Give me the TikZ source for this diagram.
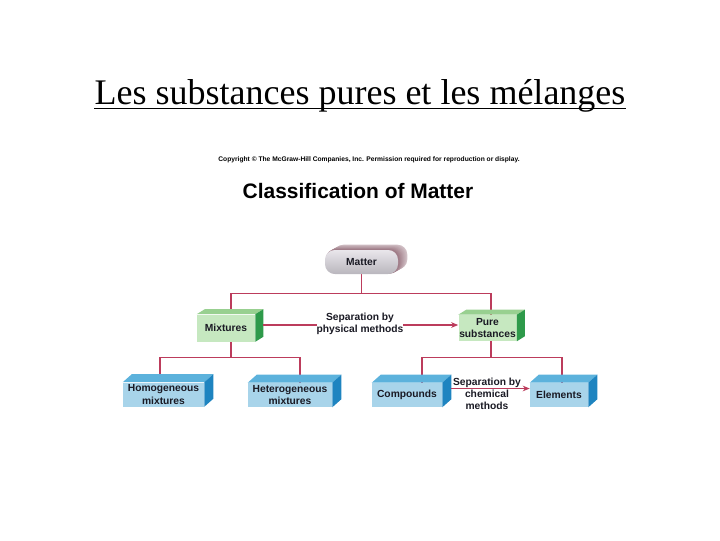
\documentclass[tikz,border=0pt]{standalone}
\usepackage{fontspec}
\setmainfont{Liberation Serif}
\newfontfamily\arial{Liberation Sans}
\usetikzlibrary{calc,arrows.meta,backgrounds}

\definecolor{lnkred}{HTML}{BC3C5C}
\definecolor{grnfront}{HTML}{C6E8C0}
\definecolor{grntop}{HTML}{98D090}
\definecolor{grnside}{HTML}{2E9A4A}
\definecolor{blufront}{HTML}{A8D4EA}
\definecolor{blutop}{HTML}{5CB2DC}
\definecolor{bluside}{HTML}{1E84C0}
\definecolor{matfront}{HTML}{DAD6DE}
\definecolor{matside}{HTML}{9A7480}
\definecolor{txtdark}{HTML}{1A1A24}

\def\pxu{0.025cm}
% top and side faces of a box node: name, depth, rise, top colour, side colour
\newcommand\boxfaces[5]{%
  \fill[#4] (#1.north west) -- ++(#2,-#3) -- ($(#1.north east)+(#2,-#3)$)
            -- (#1.north east) -- cycle;
  \fill[#5] (#1.north east) -- ++(#2,-#3) -- ($(#1.south east)+(#2,-#3)$)
            -- (#1.south east) -- cycle;
}

\begin{document}
\begin{tikzpicture}[x=\pxu, y=-\pxu,
lbl/.style = {% box labels
    font=\arial\bfseries\fontsize{7.3}{8.6}\selectfont,
    text=txtdark, align=center, inner sep=0pt,
             },
grn/.style 2 args = {lbl, fill=grnfront,
    minimum width=#1*\pxu, minimum height=#2*\pxu},
blu/.style 2 args = {lbl, fill=blufront,
    minimum width=#1*\pxu, minimum height=#2*\pxu},
lnk/.style = {draw=lnkred, line width=1pt},
arr/.style = {lnk, -{Stealth[length=5pt,width=4pt]}},
                    ]
\useasboundingbox (0,0) rectangle (720,540);

% titles
\node[font=\fontsize{25.6}{30}\selectfont, anchor=base, inner sep=0pt]
    (title) at (360,104) {Les substances pures et les mélanges};
\draw[line width=1.4pt] ($(title.base west)+(0,4.5)$) -- ($(title.base east)+(0,4.5)$);
\node[font=\arial\bfseries\fontsize{4.75}{5}\selectfont, anchor=base, inner sep=0pt]
    (copy) at (369,161)
    {Copyright © The McGraw-Hill Companies, Inc. Permission required for reproduction or display.};
\node[font=\arial\bfseries\fontsize{14.9}{17}\selectfont, anchor=base, inner sep=0pt]
    (head) at (358,198) {Classification of Matter};

% boxes
\node[lbl, rounded corners=7pt, top color=matfront!60!white, bottom color=matfront!85!black,
    minimum width=73*\pxu, minimum height=24*\pxu] (matter) at (361.5,262) {Matter};
\node[grn={58}{27}] (mix)    at (226,328)   {Mixtures};
\node[grn={58}{26}] (pure)   at (487.5,328) {Pure\\substances};
\node[blu={81}{24}] (homo)   at (163.5,394.5) {Homogeneous\\mixtures};
\node[blu={84}{24}] (hetero) at (290,395)   {Heterogeneous\\mixtures};
\node[blu={70}{24}] (comp)   at (407,395)   {Compounds};
\node[blu={58}{24}] (elem)   at (559,395)   {Elements};

\boxfaces{mix}{8}{5}{grntop}{grnside}
\boxfaces{pure}{8}{5}{grntop}{grnside}
\boxfaces{homo}{9}{8}{blutop}{bluside}
\boxfaces{hetero}{9}{8}{blutop}{bluside}
\boxfaces{comp}{9}{8}{blutop}{bluside}
\boxfaces{elem}{9}{8}{blutop}{bluside}

\begin{pgfonlayer}{background}
  \foreach \i in {9,...,1}
    \fill[matside!\the\numexpr 100-\i*6\relax!white, rounded corners=7pt]
      ($(matter.south west)+(\i,-\i*5/9)$) rectangle ($(matter.north east)+(\i,-\i*5/9)$);
  \draw[lnk] (matter.south) -- ++(0,19) coordinate (mtop);
  \draw[lnk] ($(mix.north)+(5,0)$) |- (mtop) -| ($(pure.north)+(3.5,0)$);
  \draw[lnk] ($(mix.south)+(5,0)$) -- ++(0,16) coordinate (mbot);
  \draw[lnk] ($(homo.north)+(-3.5,0)$) |- (mbot) -| ($(hetero.north)+(10,0)$);
  \draw[lnk] ($(pure.south)+(3.5,0)$) -- ++(0,16) coordinate (pbot);
  \draw[lnk] ($(comp.north)+(15,0)$) |- (pbot) -| ($(elem.north)+(3,0)$);
\end{pgfonlayer}

% separations
\draw[arr] ($(mix.east)+(8,-3)$) -- ($(pure.west)+(0,-3)$);
\node[lbl, fill=white] (phys) at (360,324) {Separation by\\physical methods};
\draw[arr] ($(comp.east)+(9,-6.5)$) -- ($(elem.west)+(0,-6.5)$);
\node[lbl] (chem) at (487,394) {Separation by\\chemical\\methods};

\end{tikzpicture}
\end{document}
